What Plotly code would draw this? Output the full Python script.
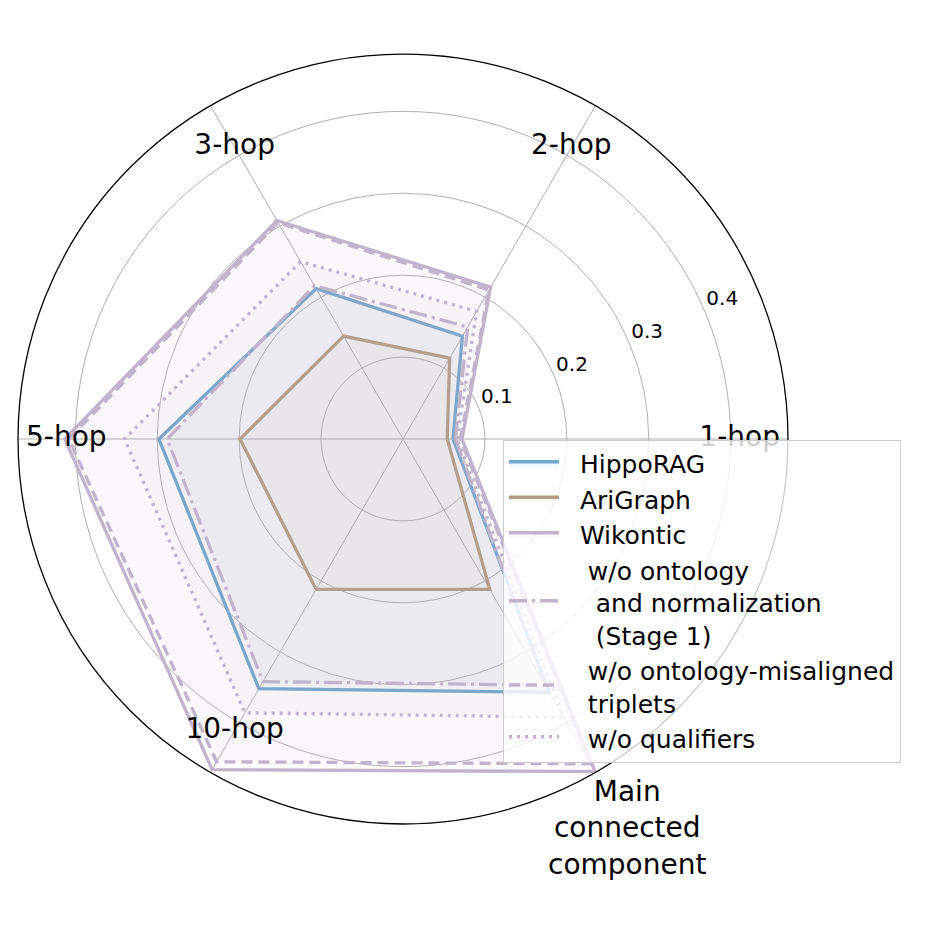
import math
import plotly.graph_objects as go

# category order around the circle (counter-clockwise from the right)
CATEGORIES = ["1-hop", "2-hop", "3-hop", "5-hop", "10-hop",
              "Main<br>connected<br>component"]

HIPPORAG = [0.061, 0.145, 0.212, 0.298, 0.352, 0.357]
ARIGRAPH = [0.054, 0.114, 0.145, 0.199, 0.212, 0.212]
WIKONTIC = [0.072, 0.214, 0.308, 0.413, 0.466, 0.469]
NO_ONTOLOGY_NORM = [0.064, 0.158, 0.216, 0.288, 0.342, 0.347]
NO_MISALIGNED = [0.070, 0.210, 0.305, 0.408, 0.455, 0.458]
NO_QUALIFIERS = [0.066, 0.180, 0.250, 0.340, 0.386, 0.392]

RADIAL_TICKS = [0.1, 0.2, 0.3, 0.4]
R_MAX = 0.47

# where the category names sit (inside the circle, main component outside)
LABEL_R = [0.411, 0.411, 0.411, 0.411, 0.411, 0.548]

BLUE = "111,166,206"
TAN = "176,154,130"
LILAC = "192,180,204"
FILL_ALPHA = 0.055

THETA = [i * 360 / len(CATEGORIES) for i in range(len(CATEGORIES))]

DOMAIN_X = [0.0108, 0.8414]
DOMAIN_Y = [0.1197, 0.9504]


def closed(v):
    return list(v) + [v[0]]


NB = "\u00a0"
series = [
    (NB * 2 + "HippoRAG", HIPPORAG, BLUE, "solid"),
    (NB * 2 + "AriGraph", ARIGRAPH, TAN, "solid"),
    (NB * 2 + "Wikontic", WIKONTIC, LILAC, "solid"),
    (NB * 3 + "w/o ontology<br>" + NB * 4 + "and normalization<br>" + NB * 4 + "(Stage 1)",
     NO_ONTOLOGY_NORM, LILAC, "18px,5px,3px,5px"),
    (NB * 3 + "w/o ontology-misaligned<br>" + NB * 3 + "triplets", NO_MISALIGNED, LILAC, "11px,6px"),
    (NB * 3 + "w/o qualifiers", NO_QUALIFIERS, LILAC, "3px,5px"),
]

fig = go.Figure()
for name, vals, rgb, dash in series:
    fig.add_trace(go.Scatterpolar(
        r=closed(vals), theta=closed(THETA), name=name, mode="lines",
        line=dict(color="rgb(%s)" % rgb, width=3.3, dash=dash),
        fill="toself", fillcolor="rgba(%s,%s)" % (rgb, FILL_ALPHA),
    ))

# category names inside the circle
fig.add_trace(go.Scatterpolar(
    r=LABEL_R[:5], theta=THETA[:5], text=CATEGORIES[:5], mode="text",
    textposition="middle center", showlegend=False,
    textfont=dict(size=28, color="black", family="DejaVu Sans"),
    hoverinfo="skip",
))

# the last one sits outside the circle, so place it as an annotation
cx = sum(DOMAIN_X) / 2
cy = sum(DOMAIN_Y) / 2
rad = (DOMAIN_X[1] - DOMAIN_X[0]) / 2
frac = LABEL_R[5] / R_MAX
ang = math.radians(THETA[5])
fig.add_annotation(
    x=cx + rad * frac * math.cos(ang), y=cy + rad * frac * math.sin(ang),
    xref="paper", yref="paper", text=CATEGORIES[5], showarrow=False,
    xanchor="center", yanchor="middle", align="center",
    font=dict(size=28, color="black", family="DejaVu Sans"),
)

# radial tick labels, matplotlib style at ~22.5 deg
fig.add_trace(go.Scatterpolar(
    r=[t + 0.025 for t in RADIAL_TICKS], theta=[23.5] * len(RADIAL_TICKS),
    text=[str(t) for t in RADIAL_TICKS], mode="text",
    textposition="middle center", showlegend=False,
    textfont=dict(size=20, color="black", family="DejaVu Sans"),
    hoverinfo="skip",
))

fig.update_layout(
    width=927, height=927,
    margin=dict(l=0, r=0, t=0, b=0),
    paper_bgcolor="white",
    font=dict(family="DejaVu Sans", color="black"),
    polar=dict(
        domain=dict(x=DOMAIN_X, y=DOMAIN_Y),
        bgcolor="white",
        radialaxis=dict(range=[0, R_MAX], tickvals=RADIAL_TICKS,
                        showticklabels=False, ticks="", showline=False,
                        gridcolor="#b0b0b0", gridwidth=1.2),
        angularaxis=dict(type="linear", thetaunit="degrees", rotation=0,
                         direction="counterclockwise", tickvals=THETA,
                         showticklabels=False, ticks="",
                         gridcolor="#b0b0b0", gridwidth=1.2,
                         showline=True, linecolor="black", linewidth=1.3),
    ),
    legend=dict(x=0.534, y=0.534, xanchor="left", yanchor="top",
                bgcolor="rgba(255,255,255,0.8)", bordercolor="#cccccc",
                borderwidth=1, font=dict(size=25), itemwidth=50),
)

fig.write_html("out.html")
